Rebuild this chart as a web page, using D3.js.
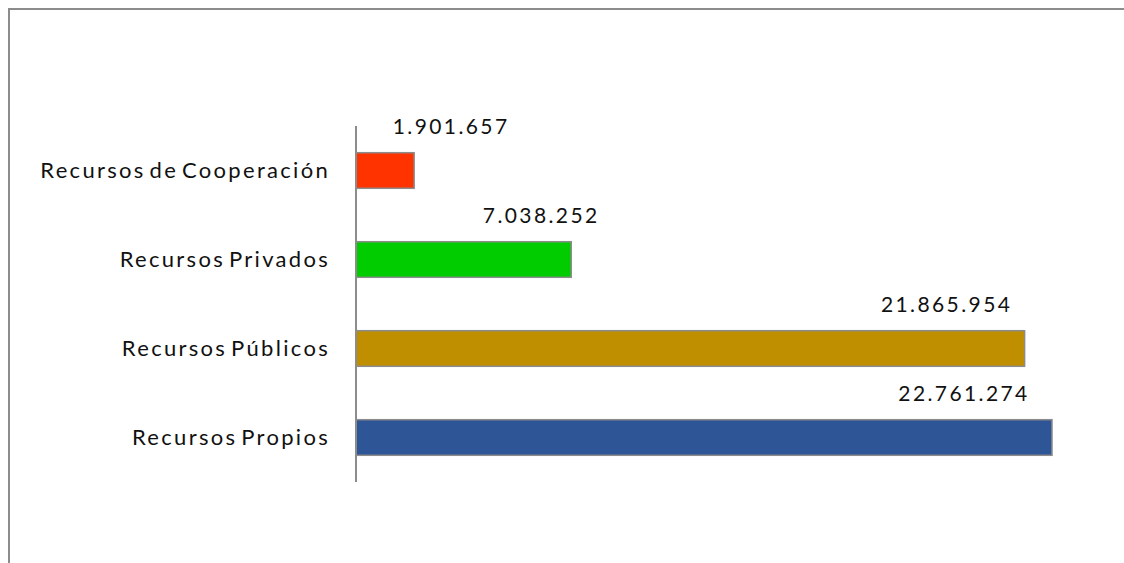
<!DOCTYPE html>
<html>
<head>
<meta charset="utf-8">
<script src="https://cdn.jsdelivr.net/npm/d3@7"></script>
<style>
  body { margin: 0; background: #fff; }
  svg { display: block; }
</style>
</head>
<body>
<div id="myPlot"></div>
<script>
// chart values, top bar first
const categories = ["Recursos de Cooperación", "Recursos Privados", "Recursos Públicos", "Recursos Propios"];
const values = [1901657, 7038252, 21865954, 22761274];
const valueLabels = ["1.901.657", "7.038.252", "21.865.954", "22.761.274"];
const colors = ["#ff3300", "#00cc00", "#c08f00", "#2e5596"];

window.onload = () => {
  const width = 1124;
  const height = 563;

  const svg = d3.select("#myPlot")
    .append("svg")
    .attr("width", width)
    .attr("height", height);

  // outer chart frame (cut off at right/bottom)
  svg.append("path")
    .attr("d", "M9,563 L9,9 L1124,9")
    .attr("fill", "none")
    .attr("stroke", "#8c8c8c")
    .attr("stroke-width", 2);

  // Scales
  const x = d3.scaleLinear()
    .domain([0, d3.max(values)])
    .range([356, 1052]);

  const y = d3.scaleBand()
    .domain(categories)
    .range([126, 482])
    .paddingInner(0.6)
    .paddingOuter(0.3);

  // Bars
  svg.append("g")
    .selectAll("rect")
    .data(values).enter()
    .append("rect")
    .attr("x", x(0))
    .attr("y", (d, i) => y(categories[i]))
    .attr("width", d => x(d) - x(0))
    .attr("height", y.bandwidth())
    .attr("fill", (d, i) => colors[i])
    .attr("stroke", "#8c8c8c")
    .attr("stroke-width", 1.5);

  // Y axis line, no ticks
  svg.append("line")
    .attr("x1", x(0)).attr("x2", x(0))
    .attr("y1", 126).attr("y2", 482)
    .attr("stroke", "#8c8c8c")
    .attr("stroke-width", 2);

  // Category labels
  svg.append("g")
    .selectAll("text")
    .data(categories).enter()
    .append("text")
    .attr("x", 330)
    .attr("y", d => y(d) + y.bandwidth() / 2 + 2)
    .attr("text-anchor", "end")
    .attr("dominant-baseline", "middle")
    .style("font-family", "Lato, 'Open Sans', sans-serif")
    .style("font-size", "22px")
    .style("letter-spacing", "2.3px")
    .style("word-spacing", "-4px")
    .style("fill", "#111")
    .text(d => d);

  // Value labels (moved by hand in the original, so nudged a bit)
  const nudge = [36, -31, -79, -89];
  svg.append("g")
    .selectAll("text")
    .data(values).enter()
    .append("text")
    .attr("x", (d, i) => x(d) + nudge[i] + 1)
    .attr("y", (d, i) => y(categories[i]) - 24)
    .attr("text-anchor", "middle")
    .attr("dominant-baseline", "middle")
    .style("font-family", "Lato, 'Open Sans', sans-serif")
    .style("font-size", "21px")
    .style("letter-spacing", "2.4px")
    .style("fill", "#111")
    .text((d, i) => valueLabels[i]);
};
</script>
</body>
</html>
